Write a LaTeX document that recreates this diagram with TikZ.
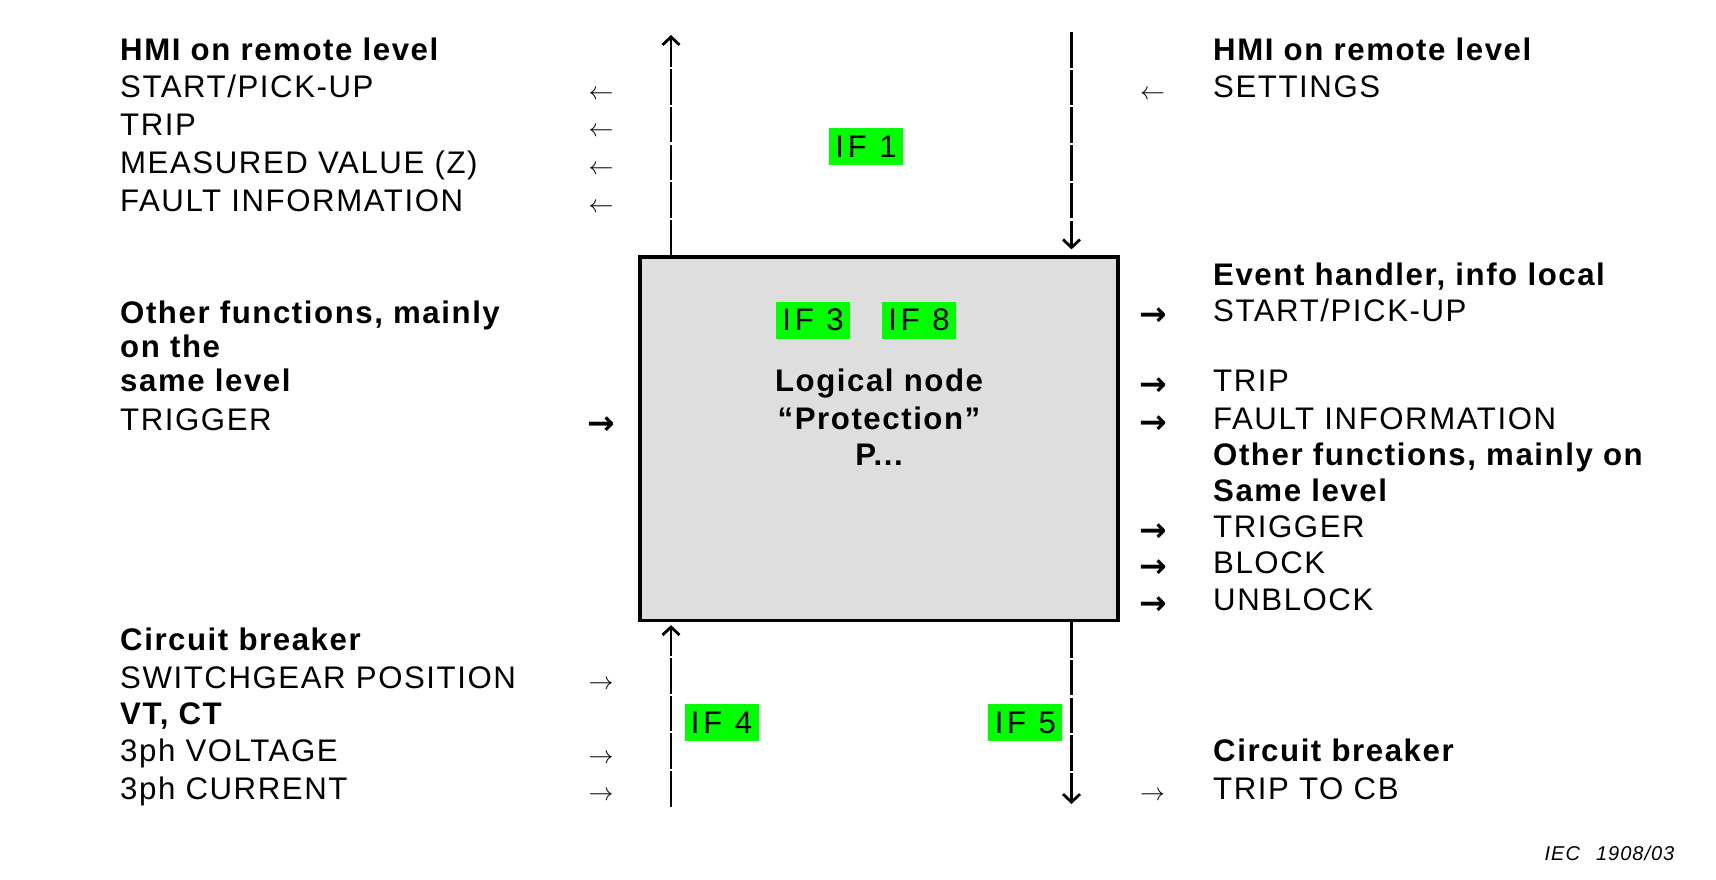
\documentclass[tikz,border=0pt]{standalone}
\usepackage{fontspec}
\setmainfont{Liberation Sans}[LetterSpace=5.0]
\newfontfamily\arrowfont{DejaVu Sans}
\usetikzlibrary{arrows.meta}
\definecolor{ifgreen}{RGB}{0,255,0}
\definecolor{boxgray}{RGB}{222,222,222}
\tikzset{
  txt/.style={anchor=base west, inner sep=0pt, font=\fontsize{31.2}{37.7}\selectfont},
  btxt/.style={anchor=base west, inner sep=0pt, font=\fontsize{31.2}{37.7}\selectfont\bfseries},
  ctxt/.style={anchor=base, inner sep=0pt, font=\fontsize{31.2}{37.7}\selectfont\bfseries},
  tarr/.style={anchor=base, inner sep=0pt, yshift=-1.3pt, font=\fontsize{28}{28}\selectfont},
  barr/.style={anchor=base, inner sep=0pt, yshift=-4pt, font=\fontsize{33}{33}\arrowfont\bfseries},
  iflab/.style={fill=ifgreen, minimum width=74pt, minimum height=37pt, inner sep=0pt,
    font=\fontsize{31.2}{37.7}\selectfont\addfontfeature{LetterSpace=12}},
  vline/.style={line width=2.8pt, dash pattern=on 35.5pt off 2.2pt},
  tipped/.style={-{Straight Barb[length=8pt,width=17pt,line width=2.8pt]}}
}
\begin{document}
\begin{tikzpicture}[x=1pt,y=1pt]
\useasboundingbox (0,0) rectangle (1716,-879);

% central box
\node[draw, line width=3.2pt, fill=boxgray, minimum width=478pt, minimum height=363.5pt, inner sep=0pt] (ln) at (879,-438.75) {};
\node[ctxt] (ln1) at (879,-391) {Logical node};
\node[ctxt] (ln2) at (879,-429) {“Protection”};
\node[ctxt] (ln3) at (879,-465) {P...};

% IF labels
\node[iflab] (if1) at (866,-146.5) {IF 1};
\node[iflab] (if3) at (813,-320) {IF 3};
\node[iflab] (if8) at (919,-320) {IF 8};
\node[iflab] (if4) at (721.5,-722.5) {IF 4};
\node[iflab] (if5) at (1025.4,-722.5) {IF 5};

% left top
\node[btxt] (lh1) at (120,-60.2) {HMI on remote level};
\node[txt] (l1) at (120,-97.9) {START/PICK-UP};
\node[txt] (l2) at (120,-135.6) {TRIP};
\node[txt] (l3) at (120,-173.3) {MEASURED VALUE (Z)};
\node[txt] (l4) at (120,-211) {FAULT INFORMATION};
\node[tarr] (la1) at (601,-97.9) {$\leftarrow$};
\node[tarr] (la2) at (601,-135.6) {$\leftarrow$};
\node[tarr] (la3) at (601,-173.3) {$\leftarrow$};
\node[tarr] (la4) at (601,-211) {$\leftarrow$};

% right top
\node[btxt] (rh1) at (1213,-60.2) {HMI on remote level};
\node[txt] (r1) at (1213,-97.9) {SETTINGS};
\node[tarr] (ra1) at (1152.5,-97.9) {$\leftarrow$};

% left middle
\node[btxt] (lm1) at (120,-323) {Other functions, mainly};
\node[btxt] (lm2) at (120,-357) {on the};
\node[btxt] (lm3) at (120,-391) {same level};
\node[txt] (lm4) at (120,-430) {TRIGGER};
\node[barr] (lma) at (601,-430) {→};

% right middle
\node[btxt] (rm0) at (1213,-285.7) {Event handler, info local};
\node[txt] (rm1) at (1213,-321.8) {START/PICK-UP};
\node[txt] (rm2) at (1213,-391.9) {TRIP};
\node[txt] (rm3) at (1213,-429) {FAULT INFORMATION};
\node[btxt] (rm4) at (1213,-465) {Other functions, mainly on};
\node[btxt] (rm5) at (1213,-501) {Same level};
\node[txt] (rm6) at (1213,-537) {TRIGGER};
\node[txt] (rm7) at (1213,-573.5) {BLOCK};
\node[txt] (rm8) at (1213,-610.7) {UNBLOCK};
\node[barr] (rma1) at (1153,-321.8) {→};
\node[barr] (rma2) at (1153,-391.9) {→};
\node[barr] (rma3) at (1153,-429) {→};
\node[barr] (rma6) at (1153,-537) {→};
\node[barr] (rma7) at (1153,-573.5) {→};
\node[barr] (rma8) at (1153,-610.7) {→};

% left bottom
\node[btxt] (lb1) at (120,-650) {Circuit breaker};
\node[txt] (lb2) at (120,-688.4) {SWITCHGEAR POSITION};
\node[btxt] (lb3) at (120,-724.5) {VT, CT};
\node[txt] (lb4) at (120,-761.8) {3ph VOLTAGE};
\node[txt] (lb5) at (120,-799) {3ph CURRENT};
\node[tarr] (lba2) at (601,-688.4) {$\rightarrow$};
\node[tarr] (lba4) at (601,-761.8) {$\rightarrow$};
\node[tarr] (lba5) at (601,-799) {$\rightarrow$};

% right bottom
\node[btxt] (rb1) at (1213,-761.8) {Circuit breaker};
\node[txt] (rb2) at (1213,-799) {TRIP TO CB};
\node[tarr] (rba2) at (1152.5,-799) {$\rightarrow$};

% footer
\node[anchor=base east, inner sep=0pt, font=\fontsize{20}{24}\selectfont\itshape] (iec) at (1674.5,-860) {IEC\hspace{16pt}1908/03};

% vertical interface lines
\coordinate (tl) at (671,-35);
\coordinate (tr) at (1071.5,-32);
\coordinate (bl) at (671,-806.6);
\coordinate (br) at (1071.5,-804);
\draw[vline,tipped] (tl |- ln.north) -- (tl);
\draw[vline,tipped,shorten >=6pt] (tr) -- (tr |- ln.north);
\draw[vline,tipped,shorten >=3pt] (bl) -- (bl |- ln.south);
\draw[vline,tipped] (br |- ln.south) -- (br);
\end{tikzpicture}
\end{document}
